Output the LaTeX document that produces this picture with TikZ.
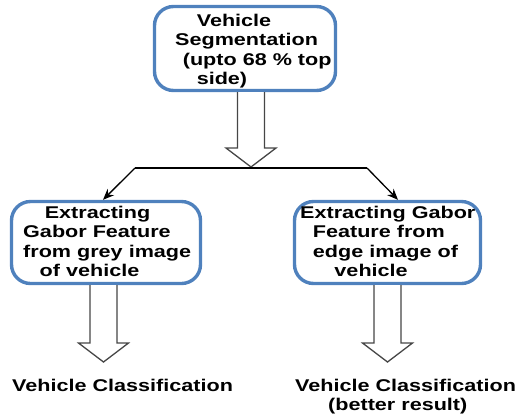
\documentclass[tikz,border=0pt]{standalone}
\usepackage{fontspec}
\setmainfont{Liberation Sans}
\usetikzlibrary{arrows.meta,calc}
\definecolor{boxblue}{RGB}{79,129,189}
\newcommand\hstretch[1]{\scalebox{1.27}[1]{#1}}
\newcommand\hollowarrow[4]{%
  \filldraw[hollow] (#1-13.5,#2) -- (#1-13.5,#3) -- (#1-25,#3) -- (#1,#4) -- (#1+25,#3) -- (#1+13.5,#3) -- (#1+13.5,#2);}
\begin{document}
\begin{tikzpicture}[x=1pt,y=-1pt,
  box/.style={draw=boxblue, line width=3.4pt, rounded corners=19pt, fill=white, inner sep=0},
  txt/.style={inner sep=0, anchor=base west, font=\bfseries\fontsize{17}{19.5}\selectfont},
  hollow/.style={draw=gray!55!black, line width=1.3pt, fill=white, line join=miter},
  conn/.style={line width=1.6pt},
  tip/.style={-{Stealth[length=11pt,width=9pt]}, line width=1.3pt}]
\useasboundingbox (0,0) rectangle (521,416);

% boxes
\node[box, minimum width=181pt, minimum height=84pt] (seg) at (245,48.5) {};
\node[box, minimum width=189pt, minimum height=82pt] (lbox) at (106,242.5) {};
\node[box, minimum width=186pt, minimum height=82pt] (rbox) at (387.5,242.5) {};

% texts
\node[txt] (segtxt) at (175,26) {\hstretch{\begin{tabular}[t]{@{}l@{}}\hspace*{17pt}Vehicle\\Segmentation\\\hspace*{6pt}(upto 68 \% top\\\hspace*{17pt}side)\end{tabular}}};
\node[txt] (ltxt) at (23,218) {\hstretch{\begin{tabular}[t]{@{}l@{}}\hspace*{17pt}Extracting\\Gabor Feature\\from grey image\\\hspace*{13pt}of vehicle\end{tabular}}};
\node[txt] (rtxt) at (300,218) {\hstretch{\begin{tabular}[t]{@{}l@{}}Extracting Gabor\\\hspace*{10pt}Feature from\\\hspace*{10pt}edge image of\\\hspace*{27pt}vehicle\end{tabular}}};
\node[txt] (lres) at (12,391) {\hstretch{Vehicle Classification}};
\node[txt] (rres) at (295,391) {\hstretch{\begin{tabular}[t]{@{}l@{}}Vehicle Classification\\\hspace*{26pt}(better result)\end{tabular}}};

% hollow arrows
\hollowarrow{251}{92}{148}{167}
\hollowarrow{103.5}{285}{343}{362}
\hollowarrow{387.5}{285}{343}{362}

% split connector
\coordinate (jl) at (135,168);
\coordinate (jr) at (367,168);
\draw[conn] (jl) -- (jr);
\draw[tip] (jl) -- ($(lbox.north)+(-3,0)$);
\draw[tip] (jr) -- ($(rbox.north)+(10.5,0)$);
\end{tikzpicture}
\end{document}
